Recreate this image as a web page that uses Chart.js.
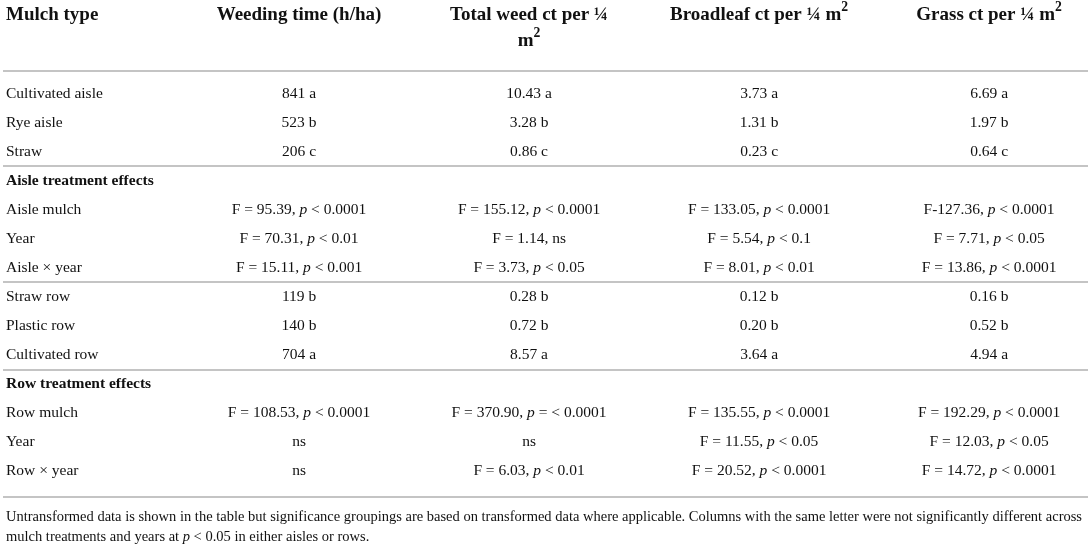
<!DOCTYPE html>
<html>
<head>
<meta charset="utf-8">
<script src="https://cdn.jsdelivr.net/npm/chart.js@4.4.1/dist/chart.umd.min.js"></script>
<style>
  html, body { margin: 0; padding: 0; background: #fff; }
  #wrap { width: 1091px; height: 546px; position: relative; }
</style>
</head>
<body>
<div id="wrap"><canvas id="tableChart"></canvas></div>
<script>
// Contenu du tableau
const headers = [
    ['Mulch type'],
    ['Weeding time (h/ha)'],
    ['Total weed ct per ¼', 'm^2^'],
    ['Broadleaf ct per ¼ m^2^'],
    ['Grass ct per ¼ m^2^']
];
const rowLabels = [
    'Cultivated aisle', 'Rye aisle', 'Straw',
    'Aisle treatment effects',
    'Aisle mulch', 'Year', 'Aisle × year',
    'Straw row', 'Plastic row', 'Cultivated row',
    'Row treatment effects',
    'Row mulch', 'Year', 'Row × year'
];
const sectionRows = [3, 10];
const weedingTime = [
    '841 a', '523 b', '206 c', null,
    'F = 95.39, _p_ < 0.0001', 'F = 70.31, _p_ < 0.01', 'F = 15.11, _p_ < 0.001',
    '119 b', '140 b', '704 a', null,
    'F = 108.53, _p_ < 0.0001', 'ns', 'ns'
];
const totalWeed = [
    '10.43 a', '3.28 b', '0.86 c', null,
    'F = 155.12, _p_ < 0.0001', 'F = 1.14, ns', 'F = 3.73, _p_ < 0.05',
    '0.28 b', '0.72 b', '8.57 a', null,
    'F = 370.90, _p_ = < 0.0001', 'ns', 'F = 6.03, _p_ < 0.01'
];
const broadleaf = [
    '3.73 a', '1.31 b', '0.23 c', null,
    'F = 133.05, _p_ < 0.0001', 'F = 5.54, _p_ < 0.1', 'F = 8.01, _p_ < 0.01',
    '0.12 b', '0.20 b', '3.64 a', null,
    'F = 135.55, _p_ < 0.0001', 'F = 11.55, _p_ < 0.05', 'F = 20.52, _p_ < 0.0001'
];
const grass = [
    '6.69 a', '1.97 b', '0.64 c', null,
    'F-127.36, _p_ < 0.0001', 'F = 7.71, _p_ < 0.05', 'F = 13.86, _p_ < 0.0001',
    '0.16 b', '0.52 b', '4.94 a', null,
    'F = 192.29, _p_ < 0.0001', 'F = 12.03, _p_ < 0.05', 'F = 14.72, _p_ < 0.0001'
];
const footnote = [
    'Untransformed data is shown in the table but significance groupings are based on transformed data where applicable. Columns with the same letter were not significantly different across',
    'mulch treatments and years at _p_ < 0.05 in either aisles or rows.'
];

// Mise en page (unités des axes)
const ruleRows = [2.5, 6.5, 9.5, 13.9];
const headerRule = -0.81;
const headerRowPos = [-2.72, -1.83];
const footnotePos = [14.6, 15.28];
const firstColX = -0.274;
const FONT = '"Liberation Serif", "Times New Roman", serif';

function parseRich(str) {
    return str.split(/(_[^_]+_|\^[^^]+\^)/).filter(s => s.length).map(s => {
        if (s[0] === '_') return { t: s.slice(1, -1), it: true };
        if (s[0] === '^') return { t: s.slice(1, -1), sup: true };
        return { t: s };
    });
}

function drawRich(ctx, str, x, y, align, size, bold) {
    const segs = parseRich(str);
    const fontFor = s => (s.it ? 'italic ' : '') + (bold ? 'bold ' : '') +
        (s.sup ? size * 0.72 : size) + 'px ' + FONT;
    let total = 0;
    segs.forEach(s => { ctx.font = fontFor(s); s.w = ctx.measureText(s.t).width; total += s.w; });
    let cx = align === 'left' ? x : x - total / 2;
    segs.forEach(s => {
        ctx.font = fontFor(s);
        ctx.fillText(s.t, cx, s.sup ? y - size * 0.38 : y);
        cx += s.w;
    });
}

const tablePlugin = {
    id: 'tablePlugin',
    afterDraw(chart) {
        const { ctx, chartArea, scales: { x, y } } = chart;
        ctx.save();
        ctx.fillStyle = '#111';
        ctx.textBaseline = 'middle';

        // lignes horizontales
        ctx.strokeStyle = '#c4c4c4';
        ctx.lineWidth = 2;
        [headerRule].concat(ruleRows).forEach(r => {
            const py = Math.round(y.getPixelForValue(r));
            ctx.beginPath();
            ctx.moveTo(chartArea.left + 3, py);
            ctx.lineTo(chartArea.right - 3, py);
            ctx.stroke();
        });

        // en-têtes
        headers.forEach((lines, c) => {
            lines.forEach((txt, i) => {
                const py = y.getPixelForValue(headerRowPos[i]);
                if (c === 0) drawRich(ctx, txt, x.getPixelForValue(firstColX), py, 'left', 19, true);
                else drawRich(ctx, txt, x.getPixelForValue(c), py, 'center', 19, true);
            });
        });

        // lignes du tableau
        const cols = [weedingTime, totalWeed, broadleaf, grass];
        rowLabels.forEach((label, r) => {
            const py = y.getPixelForValue(r);
            drawRich(ctx, label, x.getPixelForValue(firstColX), py, 'left', 15.5, sectionRows.includes(r));
            cols.forEach((col, c) => {
                if (col[r]) drawRich(ctx, col[r], x.getPixelForValue(c + 1), py, 'center', 15.5, false);
            });
        });

        // note
        footnote.forEach((txt, i) => {
            drawRich(ctx, txt, x.getPixelForValue(firstColX), y.getPixelForValue(footnotePos[i]), 'left', 14.5, false);
        });
        ctx.restore();
    }
};

new Chart(document.getElementById('tableChart').getContext('2d'), {
    type: 'scatter',
    data: { datasets: [{ data: [], pointRadius: 0 }] },
    options: {
        responsive: true,
        maintainAspectRatio: false,
        animation: false,
        layout: { padding: 0 },
        scales: {
            x: { type: 'linear', display: false, min: -0.3, max: 4.443 },
            y: { type: 'linear', display: false, reverse: true, min: -3.241, max: 15.586 }
        },
        plugins: {
            legend: { display: false },
            tooltip: { enabled: false }
        }
    },
    plugins: [tablePlugin]
});
</script>
</body>
</html>
